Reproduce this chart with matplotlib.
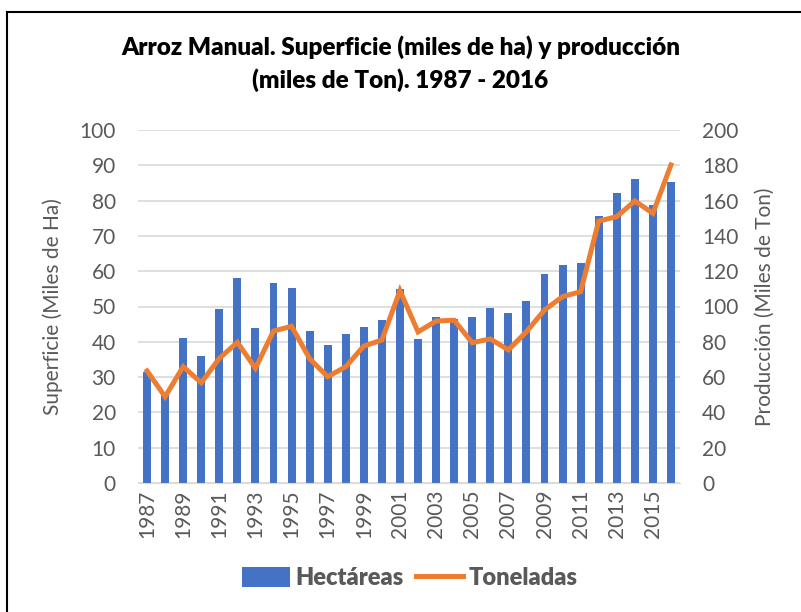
import numpy as np
import matplotlib.pyplot as plt
from matplotlib.lines import Line2D

years = list(range(1987, 2017))
hectareas = [31.5, 25.0, 41.2, 36.0, 49.2, 58.1, 43.9, 56.7, 55.1, 43.1,
             39.0, 42.3, 44.3, 46.1, 55.0, 40.9, 47.0, 46.5, 47.0, 49.7,
             48.3, 51.5, 59.3, 61.7, 62.4, 75.5, 82.2, 86.0, 78.7, 85.2]
toneladas = [63.5, 48.9, 65.9, 56.8, 70.6, 79.7, 65.0, 86.1, 88.8, 70.4,
             60.2, 65.9, 77.6, 81.0, 109.0, 85.6, 91.8, 92.2, 79.5, 81.6,
             75.4, 85.7, 98.0, 105.6, 108.4, 148.4, 150.9, 159.8, 152.8, 180.2]
tick_years = years[::2]

plt.rcParams['font.family'] = ['Lato', 'DejaVu Sans']
gray = "#595959"

fig = plt.figure(figsize=(8.01, 6.12), dpi=100)
ax = fig.add_axes([138/801, 1 - 483/612, 542/801, 353/612])
ax2 = ax.twinx()

x = np.arange(len(years))
bars = ax.bar(x, hectareas, width=0.44, color="#4472c4", zorder=2, label="Hectáreas")
line, = ax2.plot(x, toneladas, color="#ed7d31", lw=3.6, solid_joinstyle="miter", zorder=3, label="Toneladas")

ax.set_xlim(-0.5, len(years) - 0.5)
ax.set_ylim(0, 100)
ax2.set_ylim(0, 200)
ax.set_yticks(range(0, 101, 10))
ax2.set_yticks(range(0, 201, 20))
ax.set_xticks(x[::2])
ax.set_xticklabels(tick_years, rotation=90)
ax.yaxis.grid(True, color="#d9d9d9", lw=1.2, zorder=0)
ax.set_axisbelow(True)

for a in (ax, ax2):
    for s in a.spines.values():
        s.set_visible(False)
    a.tick_params(length=0, labelsize=15, colors=gray, pad=16)
ax.spines["bottom"].set_visible(True)
ax.spines["bottom"].set_color("#d9d9d9")
ax.tick_params(axis="x", pad=5)

ax.set_ylabel("Superficie (Miles de Ha)", fontsize=15, color=gray, labelpad=12)
ax2.set_ylabel("Producción (Miles de Ton)", fontsize=15, color=gray, rotation=90, labelpad=12)

fig.text(0.5, 1 - 47/612, "Arroz Manual. Superficie (miles de ha) y producción",
         ha="center", va="center", fontsize=17.5, fontweight="heavy", color="black")
fig.text(0.5, 1 - 80/612, "(miles de Ton). 1987 - 2016",
         ha="center", va="center", fontsize=17.5, fontweight="heavy", color="black")

fig.legend(handles=[bars, line], labels=["Hectáreas", "Toneladas"], loc="center",
           bbox_to_anchor=(410/801, 1 - 578/612), ncol=2, frameon=False,
           prop={"size": 17, "weight": "heavy"}, labelcolor=gray,
           handlelength=2.0, handleheight=0.9, handletextpad=0.25, columnspacing=0.5)

# chart area border (top and left visible)
fig.add_artist(Line2D([7/801, 1.02], [1 - 12/612, 1 - 12/612], color="black", lw=1.5, transform=fig.transFigure))
fig.add_artist(Line2D([7/801, 7/801], [1 - 12/612, -0.02], color="black", lw=1.5, transform=fig.transFigure))

fig.savefig("out.png", dpi=100)
